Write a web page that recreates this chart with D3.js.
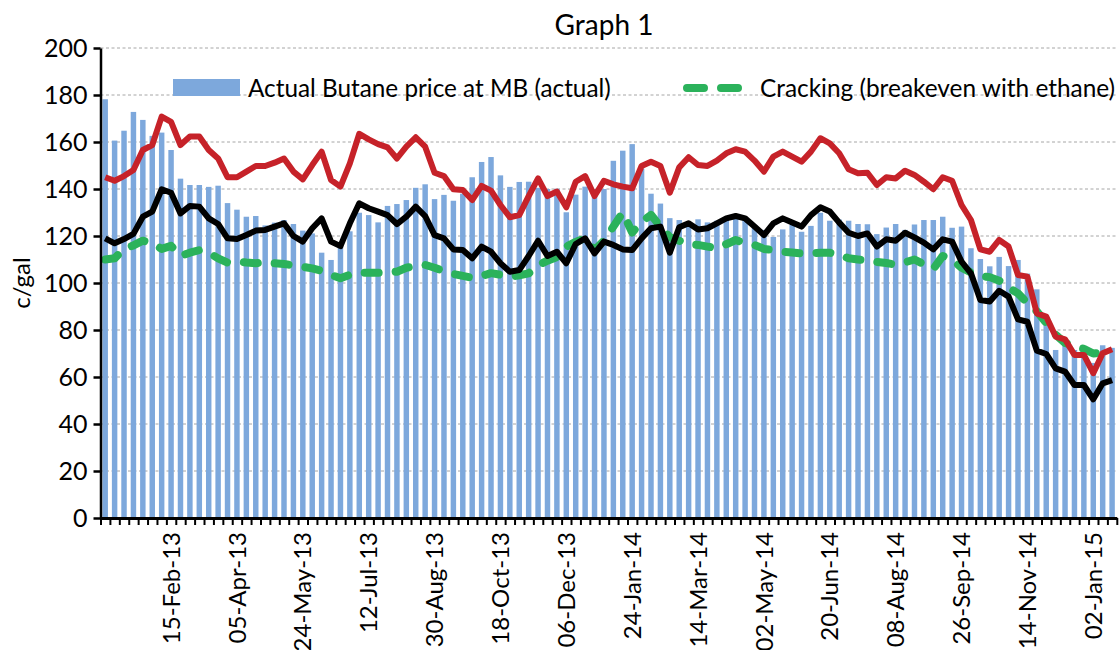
<!DOCTYPE html>
<html><head><meta charset="utf-8">
<script src="https://cdn.jsdelivr.net/npm/d3@7"></script>
<style>
body{margin:0;background:#fff;}
svg{display:block;}
text{font-family:Lato,"Open Sans",sans-serif;fill:#000;}
</style>
</head><body>
<svg id="chart" width="1120" height="650"></svg>
<script>
// ---- data ----
const firstWeek = new Date(Date.UTC(2012, 11, 28));
const weekCount = 108;
const tickLabels = ["15-Feb-13","05-Apr-13","24-May-13","12-Jul-13","30-Aug-13","18-Oct-13","06-Dec-13",
  "24-Jan-14","14-Mar-14","02-May-14","20-Jun-14","08-Aug-14","26-Sep-14","14-Nov-14","02-Jan-15"];
const yTicks = [0,20,40,60,80,100,120,140,160,180,200];

const butaneActual = [
 178.2,160.6,164.8,172.8,169.4,162.6,164.0,156.6,144.4,141.7,
 141.7,140.9,141.4,134.0,131.2,128.2,128.5,124.5,125.7,126.8,
 125.1,122.3,121.1,112.9,109.8,116.0,122.0,129.9,128.9,125.8,
 132.8,133.6,135.3,140.5,142.0,135.7,137.5,135.0,138.0,145.0,
 151.5,153.6,145.8,140.9,143.0,143.1,140.5,140.0,140.1,130.1,
 137.6,141.0,140.0,140.0,152.0,156.3,159.1,148.7,138.0,133.8,
 127.6,126.8,125.5,127.1,125.8,126.5,128.0,128.9,126.8,124.7,
 122.6,119.6,122.8,124.7,121.8,124.3,129.9,126.5,127.0,126.5,
 125.1,125.0,120.8,123.6,125.1,122.6,124.9,126.8,126.8,128.2,
 123.5,124.0,114.8,110.2,107.1,111.1,107.2,109.8,104.0,97.3,
 85.0,71.5,75.0,71.5,69.0,66.0,73.5,72.4];

const redLine = [
 145.0,143.5,145.5,148.1,156.6,158.7,170.8,168.6,158.7,162.3,
 162.3,156.6,153.0,145.0,145.0,147.4,149.8,149.8,151.2,153.0,
 147.4,144.1,150.2,155.9,143.8,141.0,150.9,163.5,161.1,159.1,
 157.7,153.0,158.0,162.0,158.0,146.9,145.5,139.9,139.6,135.3,
 141.3,139.3,133.2,128.0,128.9,137.0,144.5,137.0,138.9,132.2,
 143.1,145.5,137.0,143.5,142.0,141.0,140.3,149.8,151.6,149.8,
 138.4,149.2,153.5,150.2,149.8,152.1,155.2,156.9,155.9,152.1,
 147.4,153.8,155.9,153.8,151.6,155.9,161.6,159.4,155.2,148.4,
 146.7,146.9,141.7,145.0,144.5,147.8,146.0,143.1,139.9,145.0,
 143.5,133.2,126.8,114.3,113.3,118.3,115.5,103.4,102.7,87.1,
 85.7,77.2,76.0,69.4,69.4,61.6,70.1,71.8];

const blackLine = [
 119.0,116.9,118.7,120.9,128.2,130.4,139.9,138.4,129.6,132.8,
 132.5,127.5,125.1,119.0,118.7,120.4,122.3,122.6,124.0,125.4,
 120.0,117.6,123.3,127.5,117.6,115.7,125.4,133.9,131.8,130.4,
 128.9,125.1,128.2,132.5,128.5,120.4,119.0,114.3,114.0,110.5,
 115.5,113.3,108.4,104.8,105.5,111.5,118.0,111.5,113.3,108.4,
 116.6,119.0,112.6,117.6,116.2,114.3,114.0,119.0,123.3,124.0,
 112.9,123.7,125.4,122.8,123.3,125.4,127.5,128.5,127.5,124.0,
 120.4,125.4,127.5,125.7,124.0,128.9,132.2,130.4,125.7,121.4,
 120.0,121.1,115.5,118.6,118.0,121.4,119.4,117.2,114.3,118.6,
 117.6,109.1,104.1,92.8,92.1,96.7,94.2,84.5,83.5,71.2,
 69.8,63.7,62.3,56.6,56.6,50.5,57.3,58.7];

const crackingBreakeven = [
 110.0,110.5,114.5,116.0,118.0,117.0,114.5,115.8,111.5,112.9,
 114.0,112.9,110.5,108.7,109.1,108.7,108.4,108.9,108.4,108.1,
 107.5,106.9,106.2,105.2,103.4,102.0,103.5,104.4,104.4,104.4,
 104.5,104.8,106.5,107.2,107.7,106.5,105.0,103.8,103.0,102.2,
 103.0,104.2,103.5,102.6,103.3,104.1,107.5,109.5,111.0,115.5,
 117.5,119.0,114.0,118.0,124.0,130.0,121.5,126.0,129.0,124.0,
 119.5,118.0,116.5,116.2,115.5,114.8,116.5,118.3,117.0,116.2,
 114.5,114.0,113.3,113.0,112.6,112.7,112.9,112.9,112.0,110.5,
 110.0,109.5,109.0,108.5,107.8,108.8,110.0,108.0,106.0,111.5,
 110.0,106.5,104.5,103.0,102.5,101.0,98.0,95.6,91.5,88.0,
 83.0,78.0,74.5,73.0,72.0,70.0,70.5,71.0];

const legendLabels = ["Actual Butane price at MB (actual)", "Cracking (breakeven with ethane)"];
const titleText = "Graph 1";
const yLabel = "c/gal";

// ---- categories ----
const fmt = d3.utcFormat("%d-%b-%y");
const categories = d3.range(weekCount).map(i => fmt(d3.utcDay.offset(firstWeek, 7 * i)));

// ---- layout ----
const svg = d3.select("#chart");
const X0 = 100.5, X1 = 1116.8, Y0 = 518, Y1 = 48;
const colors = {bar:"#7DA8DC", red:"#C62229", black:"#000000", green:"#2BB25B", grid:"#A6A6A6"};

const x = d3.scaleBand().domain(categories).range([X0, X1]).paddingInner(0.42).paddingOuter(0.21);
const xb = d3.scaleLinear().domain([0, weekCount]).range([X0, X1]);
const y = d3.scaleLinear().domain([0, 200]).range([Y0, Y1]);
const cx = d => x(d) + x.bandwidth() / 2;

// gridlines
svg.append("g").selectAll("line").data(yTicks.filter(v => v > 0)).join("line")
  .attr("x1", X0).attr("x2", X1).attr("y1", d => y(d)).attr("y2", d => y(d))
  .attr("stroke", colors.grid).attr("stroke-width", 1).attr("stroke-dasharray", "3,2.5");

// bars
svg.append("g").selectAll("rect").data(categories).join("rect")
  .attr("x", d => x(d)).attr("width", x.bandwidth())
  .attr("y", (d, i) => y(butaneActual[i])).attr("height", (d, i) => Y0 - y(butaneActual[i]))
  .attr("fill", colors.bar);

// lines
const lineGen = vals => d3.line().x((d, i) => cx(categories[i])).y(d => y(d))(vals);
svg.append("path").attr("d", lineGen(crackingBreakeven)).attr("fill", "none")
  .attr("stroke", colors.green).attr("stroke-width", 8).attr("stroke-linecap", "round")
  .attr("stroke-linejoin", "round").attr("stroke-dasharray", "14,17");
svg.append("path").attr("d", lineGen(redLine)).attr("fill", "none")
  .attr("stroke", colors.red).attr("stroke-width", 6).attr("stroke-linejoin", "round");
svg.append("path").attr("d", lineGen(blackLine)).attr("fill", "none")
  .attr("stroke", colors.black).attr("stroke-width", 6).attr("stroke-linejoin", "round");

// y axis
const yAxis = svg.append("g").attr("transform", `translate(${X0},0)`)
  .call(d3.axisLeft(y).tickValues(yTicks).tickSize(7).tickSizeOuter(0).tickPadding(6));
yAxis.select(".domain").attr("stroke", "#000").attr("stroke-width", 2.5);
yAxis.selectAll(".tick line").attr("stroke", "#000").attr("stroke-width", 2.5);
yAxis.selectAll("text").style("font-size", "25px").style("font-family", "Lato");

// x axis: category boundary ticks
const xTickAxis = svg.append("g").attr("transform", `translate(0,${Y0})`)
  .call(d3.axisBottom(xb).tickValues(d3.range(weekCount + 1)).tickSize(7).tickSizeOuter(0).tickFormat(""));
xTickAxis.select(".domain").attr("stroke", "#000").attr("stroke-width", 3);
xTickAxis.selectAll(".tick line").attr("stroke", "#000").attr("stroke-width", 2);

// x axis labels
const xLab = svg.append("g").attr("transform", `translate(0,${Y0})`)
  .call(d3.axisBottom(x).tickValues(tickLabels).tickSize(0).tickSizeOuter(0));
xLab.select(".domain").remove();
xLab.selectAll("text")
  .attr("transform", "rotate(-90)").attr("text-anchor", "end")
  .attr("x", -14).attr("y", 0).attr("dy", "0.36em")
  .style("font-size", "24px").style("font-family", "Lato");

// title
svg.append("text").attr("x", 604).attr("y", 35).attr("text-anchor", "middle")
  .style("font-size", "28px").text(titleText);

// y label
svg.append("text").attr("transform", "translate(30,283) rotate(-90)").attr("text-anchor", "middle")
  .style("font-size", "24px").text(yLabel);

// legend
const lg = svg.append("g");
lg.append("rect").attr("x", 173).attr("y", 79).attr("width", 67).attr("height", 17).attr("fill", colors.bar);
lg.append("text").attr("x", 248).attr("y", 97).style("font-size", "24.3px").text(legendLabels[0]);
lg.append("line").attr("x1", 687).attr("x2", 738).attr("y1", 88).attr("y2", 88)
  .attr("stroke", colors.green).attr("stroke-width", 8).attr("stroke-linecap", "round")
  .attr("stroke-dasharray", "17,17");
lg.append("text").attr("x", 760).attr("y", 97).style("font-size", "24.4px").text(legendLabels[1]);
</script>
</body></html>
